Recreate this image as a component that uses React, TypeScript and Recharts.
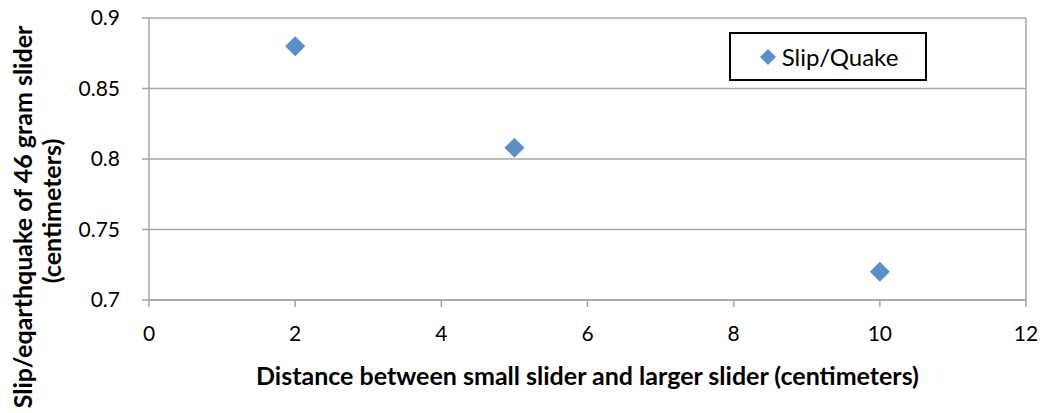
import React from 'react';
import { ScatterChart, Scatter, XAxis, YAxis, CartesianGrid, ReferenceLine } from 'recharts';

const distances = [2, 5, 10];
const slipValues = [0.88, 0.808, 0.72];
const xTicks = [0, 2, 4, 6, 8, 10, 12];
const yTicks = [0.7, 0.75, 0.8, 0.85, 0.9];
const seriesName = 'Slip/Quake';
const xTitle = 'Distance between small slider and larger slider (centimeters)';
const yTitleLines = ['Slip/eqarthquake of 46 gram slider', '(centimeters)'];

const data = distances.map((d, i) => ({ x: d, y: slipValues[i] }));

const FONT = 'Lato, "Open Sans", sans-serif';
const COLOR = '#5b8fc9';
const GRID = '#a6a6a6';

const Diamond = (props: any) => {
  const { cx, cy } = props;
  const r = 10;
  return <polygon points={`${cx},${cy - r} ${cx + r},${cy} ${cx},${cy + r} ${cx - r},${cy}`} fill={COLOR} />;
};

const titleStyle = { fontFamily: FONT, fontWeight: 700, fontSize: 25, fill: '#000' };

const YTitle = () => (
  <g>
    <text x={32} y={217} transform="rotate(-90, 32, 217)" textAnchor="middle" style={titleStyle}>{yTitleLines[0]}</text>
    <text x={61} y={211} transform="rotate(-90, 61, 211)" textAnchor="middle" style={titleStyle}>{yTitleLines[1]}</text>
  </g>
);

const XTitle = (props: any) => {
  const vb = props.viewBox;
  const cx = vb.x + vb.width / 2;
  return <text x={cx} y={385} textAnchor="middle" style={titleStyle}>{xTitle}</text>;
};

export default function App() {
  return (
    <div style={{ position: 'absolute', left: 0, top: 0, width: 1046, height: 413, background: '#fff' }}>
      <ScatterChart width={1046} height={413} margin={{ top: 18, right: 20, bottom: 0, left: 0 }}>
        <CartesianGrid horizontal vertical={false} stroke={GRID} strokeWidth={1.5} />
        <XAxis type="number" dataKey="x" domain={[0, 12]} ticks={xTicks} height={113}
          stroke={GRID} strokeWidth={1.5} tickSize={7} tickMargin={19}
          tick={{ fontFamily: FONT, fontSize: 21, fill: '#000' }}
          label={{ content: <XTitle /> }} />
        <YAxis type="number" dataKey="y" domain={[0.7, 0.9]} ticks={yTicks} width={149}
          stroke={GRID} strokeWidth={1.5} tickSize={7} tickMargin={22}
          tick={{ fontFamily: FONT, fontSize: 21, fill: '#000' }}
          label={{ content: <YTitle /> }} />
        <ReferenceLine x={12} stroke={GRID} strokeWidth={1.5} />
        <Scatter name={seriesName} data={data} shape={<Diamond />} isAnimationActive={false} />
      </ScatterChart>
      <div style={{ position: 'absolute', left: 729, top: 32, width: 194, height: 45, border: '2px solid #000', background: '#fff', display: 'flex', alignItems: 'center', justifyContent: 'center', fontFamily: FONT, fontSize: 24, color: '#000' }}>
        <svg width={20} height={20} style={{ marginRight: 4 }}>
          <polygon points="10,2 18,10 10,18 2,10" fill={COLOR} />
        </svg>
        <span>{seriesName}</span>
      </div>
    </div>
  );
}
